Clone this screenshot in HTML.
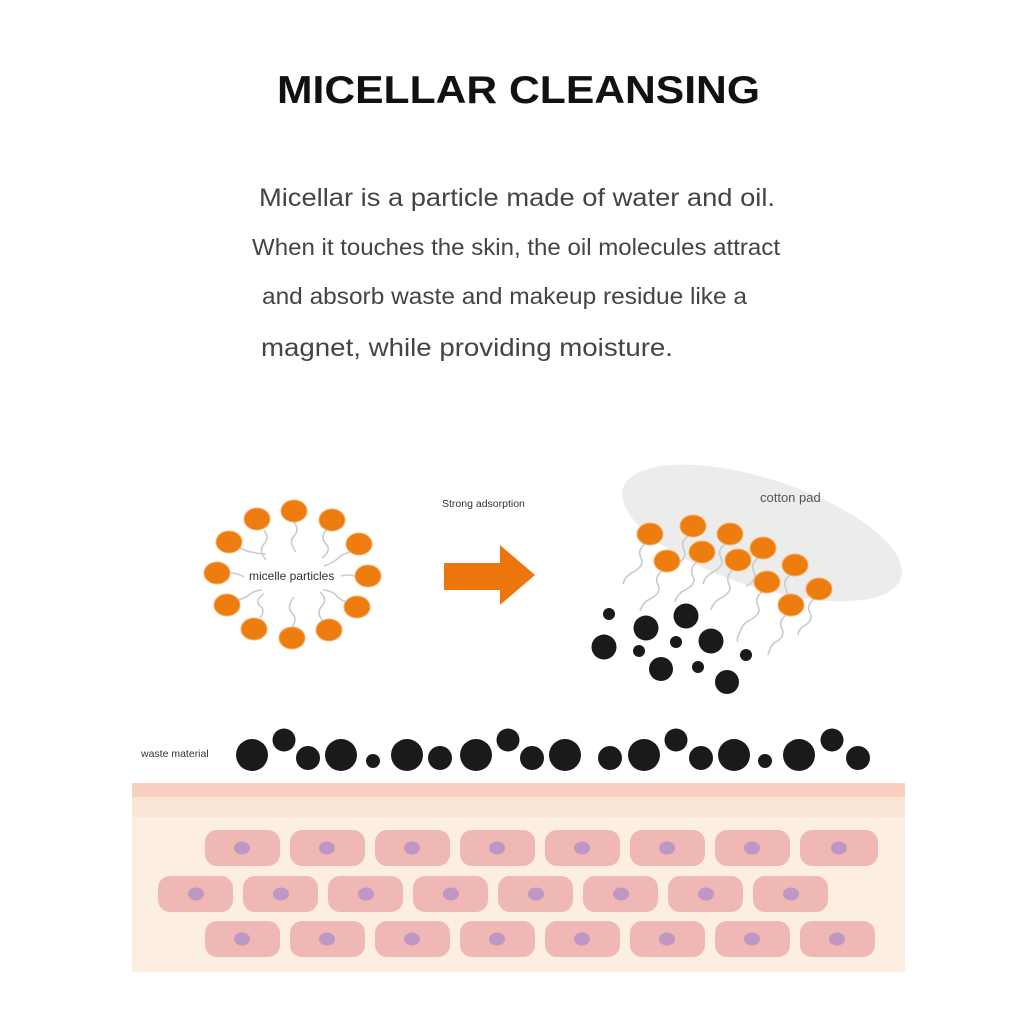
<!DOCTYPE html>
<html><head><meta charset="utf-8"><style>html,body{margin:0;padding:0;background:#fff}svg{display:block}</style></head>
<body>
<svg width="1024" height="1024" viewBox="0 0 1024 1024" xmlns="http://www.w3.org/2000/svg" font-family="Liberation Sans, sans-serif">
<rect width="1024" height="1024" fill="#fff"/>
<text x="277" y="103" font-size="39" font-weight="bold" fill="#111" textLength="483" lengthAdjust="spacingAndGlyphs">MICELLAR CLEANSING</text>
<g fill="#444">
<text x="259" y="206" font-size="25" textLength="516" lengthAdjust="spacingAndGlyphs">Micellar is a particle made of water and oil.</text>
<text x="252" y="255" font-size="23" textLength="528" lengthAdjust="spacingAndGlyphs">When it touches the skin, the oil molecules attract</text>
<text x="262" y="304" font-size="23" textLength="485" lengthAdjust="spacingAndGlyphs">and absorb waste and makeup residue like a</text>
<text x="261" y="356" font-size="25" textLength="412" lengthAdjust="spacingAndGlyphs">magnet, while providing moisture.</text>
</g>
<!-- micelle -->
<g stroke="#c8ccd2" stroke-width="1.6" fill="none">
<path d="M264,530 q6,8 0,14 q-6,6 2,16"/><path d="M294,522 q6,8 0,14 q-6,6 2,16"/><path d="M326,530 q-6,8 0,14 q6,6 -4,14"/>
<path d="M350,552 q-8,2 -14,8 q-6,4 -12,6"/><path d="M355,576 q-8,-2 -14,0"/><path d="M347,602 q-8,-2 -12,-8 q-6,-4 -12,-4"/>
<path d="M322,620 q-6,-8 0,-14 q6,-6 -2,-14"/><path d="M292,627 q6,-8 0,-14 q-6,-6 2,-16"/><path d="M260,618 q6,-8 0,-12 q-6,-6 4,-12"/>
<path d="M238,600 q8,-2 12,-6 q6,-4 12,-4"/><path d="M230,573 q8,0 14,4"/><path d="M240,548 q8,4 12,4 q6,2 14,2"/>
</g>
<g fill="#ee7d0f" stroke="#f6b06a" stroke-width="1">
<ellipse cx="257" cy="519" rx="13" ry="11"/><ellipse cx="294" cy="511" rx="13" ry="11"/><ellipse cx="332" cy="520" rx="13" ry="11"/>
<ellipse cx="359" cy="544" rx="13" ry="11"/><ellipse cx="368" cy="576" rx="13" ry="11"/><ellipse cx="357" cy="607" rx="13" ry="11"/>
<ellipse cx="329" cy="630" rx="13" ry="11"/><ellipse cx="292" cy="638" rx="13" ry="11"/><ellipse cx="254" cy="629" rx="13" ry="11"/>
<ellipse cx="227" cy="605" rx="13" ry="11"/><ellipse cx="217" cy="573" rx="13" ry="11"/><ellipse cx="229" cy="542" rx="13" ry="11"/>
</g>
<text x="249" y="580" font-size="12" fill="#333">micelle particles</text>
<!-- arrow -->
<text x="442" y="507" font-size="10.5" fill="#333">Strong adsorption</text>
<polygon points="444,563 500,563 500,545 535,575 500,605 500,590 444,590" fill="#ec760c"/>
<!-- cotton pad -->
<ellipse cx="762" cy="533" rx="146" ry="54" transform="rotate(18 762 533)" fill="#ececec"/>
<text x="760" y="502" font-size="13" fill="#555">cotton pad</text>
<g stroke="#c8ccd2" stroke-width="1.6" fill="none">
<path d="M645,544 q-8,6 -4,14 q4,8 -8,14 q-8,4 -10,12"/><path d="M688,536 q-8,6 -4,14 q4,8 -8,14"/><path d="M725,544 q-8,6 -4,14 q4,8 -8,14 q-8,4 -10,12"/>
<path d="M662,571 q-8,6 -4,14 q4,8 -8,14 q-8,4 -10,12"/><path d="M697,562 q-8,6 -4,14 q4,8 -8,14 q-8,4 -10,12"/><path d="M733,570 q-8,6 -4,14 q4,8 -8,14 q-8,4 -10,12"/>
<path d="M758,558 q-8,6 -4,14 q4,8 -8,14"/><path d="M790,575 q-8,6 -4,14 q4,8 -8,14"/><path d="M762,592 q-8,6 -4,14 q4,8 -8,14 q-8,4 -10,12 q-4,6 -2,10"/>
<path d="M814,599 q-8,6 -4,14 q4,8 -8,14 q-4,4 -4,8"/><path d="M786,615 q-8,6 -4,14 q4,8 -8,14 q-4,4 -6,12"/>
</g>
<g fill="#ee7d0f" stroke="#f6b06a" stroke-width="1">
<ellipse cx="650" cy="534" rx="13" ry="11"/><ellipse cx="693" cy="526" rx="13" ry="11"/><ellipse cx="730" cy="534" rx="13" ry="11"/>
<ellipse cx="667" cy="561" rx="13" ry="11"/><ellipse cx="702" cy="552" rx="13" ry="11"/><ellipse cx="738" cy="560" rx="13" ry="11"/>
<ellipse cx="763" cy="548" rx="13" ry="11"/><ellipse cx="795" cy="565" rx="13" ry="11"/><ellipse cx="767" cy="582" rx="13" ry="11"/>
<ellipse cx="819" cy="589" rx="13" ry="11"/><ellipse cx="791" cy="605" rx="13" ry="11"/>
</g>
<g fill="#1a1a1a">
<circle cx="609" cy="614" r="6"/><circle cx="646" cy="628" r="12.5"/><circle cx="686" cy="616" r="12.5"/><circle cx="604" cy="647" r="12.5"/>
<circle cx="639" cy="651" r="6"/><circle cx="676" cy="642" r="6"/><circle cx="711" cy="641" r="12.5"/><circle cx="661" cy="669" r="12"/>
<circle cx="698" cy="667" r="6"/><circle cx="746" cy="655" r="6"/><circle cx="727" cy="682" r="12"/>
</g>
<!-- waste -->
<text x="141" y="757" font-size="10.5" fill="#333">waste material</text>
<g fill="#1a1a1a">
<circle cx="252" cy="755" r="16"/><circle cx="284" cy="740" r="11.5"/><circle cx="308" cy="758" r="12"/><circle cx="341" cy="755" r="16"/><circle cx="373" cy="761" r="7"/>
<circle cx="407" cy="755" r="16"/><circle cx="440" cy="758" r="12"/><circle cx="476" cy="755" r="16"/><circle cx="508" cy="740" r="11.5"/><circle cx="532" cy="758" r="12"/>
<circle cx="565" cy="755" r="16"/><circle cx="610" cy="758" r="12"/><circle cx="644" cy="755" r="16"/><circle cx="676" cy="740" r="11.5"/><circle cx="701" cy="758" r="12"/>
<circle cx="734" cy="755" r="16"/><circle cx="765" cy="761" r="7"/><circle cx="799" cy="755" r="16"/><circle cx="832" cy="740" r="11.5"/><circle cx="858" cy="758" r="12"/>
</g>
<!-- skin -->
<rect x="132" y="783" width="773" height="189" fill="#fcefe2"/>
<rect x="132" y="783" width="773" height="14" fill="#f7d0c0"/>
<rect x="132" y="797" width="773" height="20" fill="#fae5d6"/>
<g fill="#efb8b4">
<rect x="205" y="830" width="75" height="36" rx="12"/><rect x="290" y="830" width="75" height="36" rx="12"/><rect x="375" y="830" width="75" height="36" rx="12"/><rect x="460" y="830" width="75" height="36" rx="12"/>
<rect x="545" y="830" width="75" height="36" rx="12"/><rect x="630" y="830" width="75" height="36" rx="12"/><rect x="715" y="830" width="75" height="36" rx="12"/><rect x="800" y="830" width="78" height="36" rx="12"/>
<rect x="158" y="876" width="75" height="36" rx="12"/><rect x="243" y="876" width="75" height="36" rx="12"/><rect x="328" y="876" width="75" height="36" rx="12"/><rect x="413" y="876" width="75" height="36" rx="12"/>
<rect x="498" y="876" width="75" height="36" rx="12"/><rect x="583" y="876" width="75" height="36" rx="12"/><rect x="668" y="876" width="75" height="36" rx="12"/><rect x="753" y="876" width="75" height="36" rx="12"/>
<rect x="205" y="921" width="75" height="36" rx="12"/><rect x="290" y="921" width="75" height="36" rx="12"/><rect x="375" y="921" width="75" height="36" rx="12"/><rect x="460" y="921" width="75" height="36" rx="12"/>
<rect x="545" y="921" width="75" height="36" rx="12"/><rect x="630" y="921" width="75" height="36" rx="12"/><rect x="715" y="921" width="75" height="36" rx="12"/><rect x="800" y="921" width="75" height="36" rx="12"/>
</g>
<g fill="#bf97c4">
<ellipse cx="242" cy="848" rx="8" ry="6.5"/><ellipse cx="327" cy="848" rx="8" ry="6.5"/><ellipse cx="412" cy="848" rx="8" ry="6.5"/><ellipse cx="497" cy="848" rx="8" ry="6.5"/>
<ellipse cx="582" cy="848" rx="8" ry="6.5"/><ellipse cx="667" cy="848" rx="8" ry="6.5"/><ellipse cx="752" cy="848" rx="8" ry="6.5"/><ellipse cx="839" cy="848" rx="8" ry="6.5"/>
<ellipse cx="196" cy="894" rx="8" ry="6.5"/><ellipse cx="281" cy="894" rx="8" ry="6.5"/><ellipse cx="366" cy="894" rx="8" ry="6.5"/><ellipse cx="451" cy="894" rx="8" ry="6.5"/>
<ellipse cx="536" cy="894" rx="8" ry="6.5"/><ellipse cx="621" cy="894" rx="8" ry="6.5"/><ellipse cx="706" cy="894" rx="8" ry="6.5"/><ellipse cx="791" cy="894" rx="8" ry="6.5"/>
<ellipse cx="242" cy="939" rx="8" ry="6.5"/><ellipse cx="327" cy="939" rx="8" ry="6.5"/><ellipse cx="412" cy="939" rx="8" ry="6.5"/><ellipse cx="497" cy="939" rx="8" ry="6.5"/>
<ellipse cx="582" cy="939" rx="8" ry="6.5"/><ellipse cx="667" cy="939" rx="8" ry="6.5"/><ellipse cx="752" cy="939" rx="8" ry="6.5"/><ellipse cx="837" cy="939" rx="8" ry="6.5"/>
</g>
</svg>
</body></html>
